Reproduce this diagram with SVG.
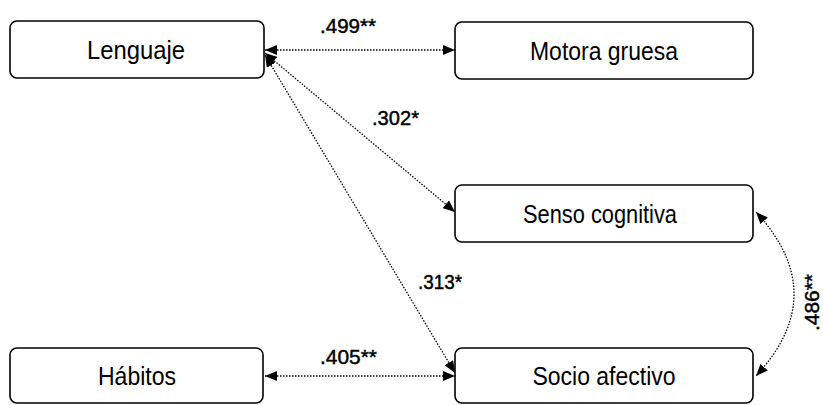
<svg xmlns="http://www.w3.org/2000/svg" width="823" height="405" viewBox="0 0 823 405">
  <style>
    .box { fill: #ffffff; stroke: #000000; stroke-width: 1.6; }
    .lbl { font-family: "Liberation Sans", Arial, sans-serif; font-size: 25px; fill: #000; text-anchor: middle; }
    .val { font-family: "Liberation Sans", Arial, sans-serif; font-size: 21px; fill: #000; stroke: #000; stroke-width: 0.45; }
    .link { fill: none; stroke: #000; stroke-width: 1.3; stroke-dasharray: 1.5 1.5; marker-start: url(#ah); marker-end: url(#ah); }
  </style>
  <defs>
    <marker id="ah" viewBox="0 0 12 10" refX="12" refY="5" markerWidth="12" markerHeight="10" markerUnits="userSpaceOnUse" orient="auto-start-reverse">
      <path d="M0,0 L12,5 L0,10 Z" fill="#000"/>
    </marker>
  </defs>
  <rect width="823" height="405" fill="#ffffff"/>

  <g id="connectors">
    <line class="link" x1="265" y1="50" x2="455" y2="50"/>
    <line class="link" x1="265" y1="53" x2="455" y2="212"/>
    <line class="link" x1="265" y1="55" x2="455" y2="373"/>
    <line class="link" x1="265" y1="376" x2="455" y2="376"/>
    <path class="link" d="M756,212 Q832,294 756,376"/>
  </g>

  <g id="lenguaje">
    <rect class="box" x="10" y="21" width="254" height="57" rx="7"/>
    <text class="lbl" x="136" y="59" textLength="98" lengthAdjust="spacingAndGlyphs">Lenguaje</text>
  </g>
  <g id="motora-gruesa">
    <rect class="box" x="455" y="22" width="298" height="57" rx="7"/>
    <text class="lbl" x="604" y="60" textLength="148" lengthAdjust="spacingAndGlyphs">Motora gruesa</text>
  </g>
  <g id="senso-cognitiva">
    <rect class="box" x="455" y="185" width="298" height="57" rx="7"/>
    <text class="lbl" x="600" y="223" textLength="154" lengthAdjust="spacingAndGlyphs">Senso cognitiva</text>
  </g>
  <g id="socio-afectivo">
    <rect class="box" x="455" y="348" width="298" height="55" rx="7"/>
    <text class="lbl" x="604" y="385" textLength="143" lengthAdjust="spacingAndGlyphs">Socio afectivo</text>
  </g>
  <g id="habitos">
    <rect class="box" x="10" y="348" width="253" height="55" rx="7"/>
    <text class="lbl" x="137" y="385" textLength="78" lengthAdjust="spacingAndGlyphs">Hábitos</text>
  </g>

  <g id="coefficients">
    <text class="val" x="320" y="33" textLength="56" lengthAdjust="spacingAndGlyphs">.499**</text>
    <text class="val" x="372" y="125" textLength="47" lengthAdjust="spacingAndGlyphs">.302*</text>
    <text class="val" x="418" y="289" textLength="44" lengthAdjust="spacingAndGlyphs">.313*</text>
    <text class="val" x="320" y="364" textLength="57" lengthAdjust="spacingAndGlyphs">.405**</text>
    <text class="val" transform="translate(819,331) rotate(-90)" textLength="57" lengthAdjust="spacingAndGlyphs">.486**</text>
  </g>
</svg>
